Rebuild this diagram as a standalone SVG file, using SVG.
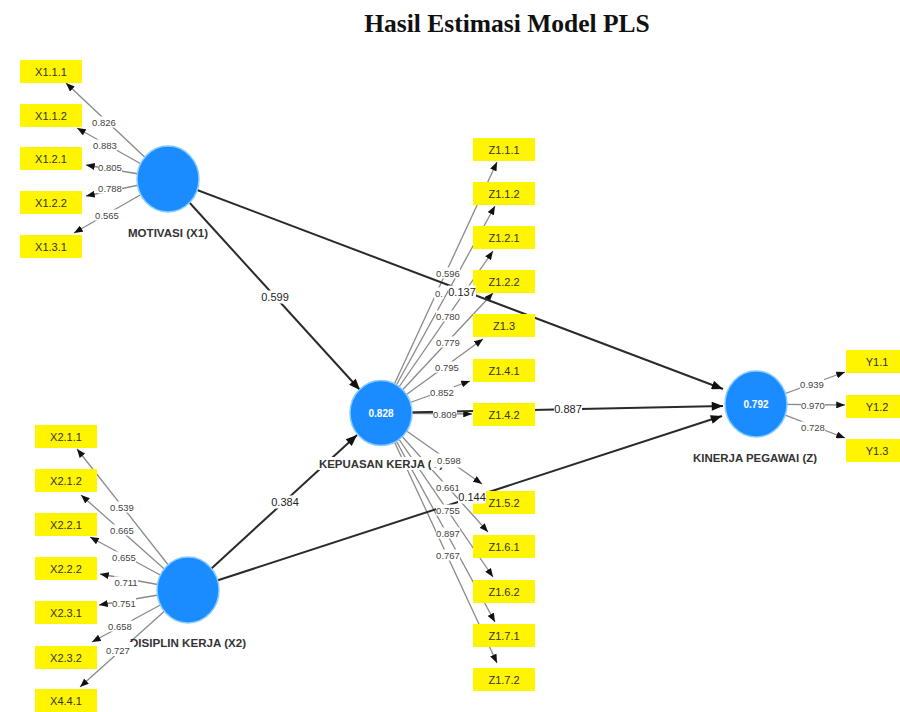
<svg xmlns="http://www.w3.org/2000/svg" width="900" height="712" viewBox="0 0 900 712">
  <defs>
    <marker id="ah" viewBox="0 0 10 8" refX="10" refY="4" markerWidth="9" markerHeight="7" orient="auto" markerUnits="userSpaceOnUse">
      <path d="M0,0L10,4L0,8z" fill="#111"/>
    </marker>
    <marker id="ahb" viewBox="0 0 10 8" refX="10" refY="4" markerWidth="12" markerHeight="9" orient="auto" markerUnits="userSpaceOnUse">
      <path d="M0,0L10,4L0,8z" fill="#111"/>
    </marker>
  </defs>
  <style>
    .title { font-family: "Liberation Serif", "Times New Roman", serif; font-weight: bold; font-size: 25.5px; fill: #111; text-anchor: middle; }
    .ld { stroke: #8a8a8a; stroke-width: 1.3; fill: none; marker-end: url(#ah); }
    .st { stroke: #2a2a2a; stroke-width: 2; fill: none; marker-end: url(#ahb); }
    .lv { fill: #1a8cff; stroke: #86ccff; stroke-width: 1.5; }
    .ind { fill: #fff500; }
    .it { font-family: "Liberation Sans", Arial, sans-serif; font-size: 11px; fill: #333; text-anchor: middle; }
    .val { font-family: "Liberation Sans", Arial, sans-serif; font-size: 10px; font-weight: bold; fill: #fff; text-anchor: middle; }
    .nm { font-family: "Liberation Sans", Arial, sans-serif; font-size: 10px; font-weight: bold; fill: #333; text-anchor: middle; }
    .bg { fill: #fff; }
    .lt { font-family: "Liberation Sans", Arial, sans-serif; font-size: 9.5px; fill: #444; text-anchor: middle; }
    .pt { font-family: "Liberation Sans", Arial, sans-serif; font-size: 11px; fill: #222; text-anchor: middle; }
  </style>

  <rect width="900" height="712" fill="#fff"/>
  <text class="title" x="507" y="32">Hasil Estimasi Model PLS</text>

  <!-- connectors: outer loadings and structural paths -->
  <g id="connectors">
    <!-- MOTIVASI (X1) loadings -->
    <line class="ld" x1="168" y1="179" x2="66" y2="83"/>
    <line class="ld" x1="168" y1="179" x2="77" y2="128"/>
    <line class="ld" x1="168" y1="179" x2="86" y2="165"/>
    <line class="ld" x1="168" y1="179" x2="86" y2="196"/>
    <line class="ld" x1="168" y1="179" x2="74" y2="233"/>
    <!-- DISIPLIN KERJA (X2) loadings -->
    <line class="ld" x1="188" y1="590" x2="77" y2="449"/>
    <line class="ld" x1="188" y1="590" x2="81" y2="495"/>
    <line class="ld" x1="188" y1="590" x2="90" y2="537"/>
    <line class="ld" x1="188" y1="590" x2="100" y2="574"/>
    <line class="ld" x1="188" y1="590" x2="99" y2="605"/>
    <line class="ld" x1="188" y1="590" x2="92" y2="642"/>
    <line class="ld" x1="188" y1="590" x2="80" y2="687"/>
    <!-- KEPUASAN KERJA (Y) loadings -->
    <line class="ld" x1="381" y1="413" x2="497" y2="162"/>
    <line class="ld" x1="381" y1="413" x2="495" y2="206"/>
    <line class="ld" x1="381" y1="413" x2="493" y2="251"/>
    <line class="ld" x1="381" y1="413" x2="493" y2="293"/>
    <line class="ld" x1="381" y1="413" x2="483" y2="339"/>
    <line class="ld" x1="381" y1="413" x2="470" y2="381"/>
    <line class="ld" x1="381" y1="413" x2="472" y2="414"/>
    <line class="ld" x1="381" y1="413" x2="482" y2="484"/>
    <line class="ld" x1="381" y1="413" x2="488" y2="532"/>
    <line class="ld" x1="381" y1="413" x2="493" y2="577"/>
    <line class="ld" x1="381" y1="413" x2="495" y2="622"/>
    <line class="ld" x1="381" y1="413" x2="497" y2="663"/>
    <!-- KINERJA PEGAWAI (Z) loadings -->
    <line class="ld" x1="756" y1="404" x2="845" y2="372"/>
    <line class="ld" x1="756" y1="404" x2="845" y2="405"/>
    <line class="ld" x1="756" y1="404" x2="845" y2="438"/>
    <!-- structural paths -->
    <line class="st" x1="168" y1="179" x2="360" y2="390"/>
    <line class="st" x1="188" y1="590" x2="357" y2="435"/>
    <line class="st" x1="168" y1="179" x2="723" y2="389"/>
    <line class="st" x1="381" y1="413" x2="723" y2="406"/>
    <line class="st" x1="188" y1="590" x2="722" y2="416"/>
  </g>

  <!-- latent variables -->
  <g id="motivasi">
    <ellipse class="lv" cx="168" cy="179" rx="31" ry="33"/>
    <text class="nm" x="168" y="237" textLength="80" lengthAdjust="spacingAndGlyphs">MOTIVASI (X1)</text>
  </g>
  <g id="disiplin">
    <ellipse class="lv" cx="188" cy="590" rx="31" ry="33"/>
    <text class="nm" x="188" y="647" textLength="116" lengthAdjust="spacingAndGlyphs">DISIPLIN KERJA (X2)</text>
  </g>
  <g id="kepuasan">
    <ellipse class="lv" cx="381" cy="413" rx="31" ry="32.5"/>
    <text class="val" x="381" y="416.5">0.828</text>
    <rect class="bg" x="318" y="457" width="127" height="13"/>
    <text class="nm" x="381" y="468" textLength="124" lengthAdjust="spacingAndGlyphs">KEPUASAN KERJA (Y)</text>
  </g>
  <g id="kinerja">
    <ellipse class="lv" cx="756" cy="404" rx="31" ry="33"/>
    <text class="val" x="756" y="407.5">0.792</text>
    <text class="nm" x="755" y="462" textLength="124" lengthAdjust="spacingAndGlyphs">KINERJA PEGAWAI (Z)</text>
  </g>

  <!-- indicators of MOTIVASI (X1) -->
  <g id="x111"><rect class="ind" x="20" y="60" width="62" height="23"/><text class="it" x="51" y="75.5">X1.1.1</text></g>
  <g id="x112"><rect class="ind" x="20" y="104" width="62" height="23"/><text class="it" x="51" y="119.5">X1.1.2</text></g>
  <g id="x121"><rect class="ind" x="20" y="147" width="62" height="23"/><text class="it" x="51" y="162.5">X1.2.1</text></g>
  <g id="x122"><rect class="ind" x="20" y="191" width="62" height="23"/><text class="it" x="51" y="206.5">X1.2.2</text></g>
  <g id="x131"><rect class="ind" x="20" y="235" width="62" height="23"/><text class="it" x="51" y="250.5">X1.3.1</text></g>

  <!-- indicators of DISIPLIN KERJA (X2) -->
  <g id="x211"><rect class="ind" x="35" y="425" width="62" height="23"/><text class="it" x="66" y="440.5">X2.1.1</text></g>
  <g id="x212"><rect class="ind" x="35" y="469" width="62" height="23"/><text class="it" x="66" y="484.5">X2.1.2</text></g>
  <g id="x221"><rect class="ind" x="35" y="513" width="62" height="23"/><text class="it" x="66" y="528.5">X2.2.1</text></g>
  <g id="x222"><rect class="ind" x="35" y="557" width="62" height="23"/><text class="it" x="66" y="572.5">X2.2.2</text></g>
  <g id="x231"><rect class="ind" x="35" y="601" width="62" height="23"/><text class="it" x="66" y="616.5">X2.3.1</text></g>
  <g id="x232"><rect class="ind" x="35" y="646" width="62" height="23"/><text class="it" x="66" y="661.5">X2.3.2</text></g>
  <g id="x441"><rect class="ind" x="35" y="689" width="62" height="23"/><text class="it" x="66" y="704.5">X4.4.1</text></g>

  <!-- indicators of KEPUASAN KERJA (Y) -->
  <g id="z111"><rect class="ind" x="473" y="138" width="62" height="23"/><text class="it" x="504" y="153.5">Z1.1.1</text></g>
  <g id="z112"><rect class="ind" x="473" y="182" width="62" height="23"/><text class="it" x="504" y="197.5">Z1.1.2</text></g>
  <g id="z121"><rect class="ind" x="473" y="226" width="62" height="23"/><text class="it" x="504" y="241.5">Z1.2.1</text></g>
  <g id="z122"><rect class="ind" x="473" y="270" width="62" height="23"/><text class="it" x="504" y="285.5">Z1.2.2</text></g>
  <g id="z13"><rect class="ind" x="473" y="314" width="62" height="23"/><text class="it" x="504" y="329.5">Z1.3</text></g>
  <g id="z141"><rect class="ind" x="473" y="359" width="62" height="23"/><text class="it" x="504" y="374.5">Z1.4.1</text></g>
  <g id="z142"><rect class="ind" x="473" y="403" width="62" height="23"/><text class="it" x="504" y="418.5">Z1.4.2</text></g>
  <g id="z152"><rect class="ind" x="473" y="491" width="62" height="23"/><text class="it" x="504" y="506.5">Z1.5.2</text></g>
  <g id="z161"><rect class="ind" x="473" y="535" width="62" height="23"/><text class="it" x="504" y="550.5">Z1.6.1</text></g>
  <g id="z162"><rect class="ind" x="473" y="580" width="62" height="23"/><text class="it" x="504" y="595.5">Z1.6.2</text></g>
  <g id="z171"><rect class="ind" x="473" y="624" width="62" height="23"/><text class="it" x="504" y="639.5">Z1.7.1</text></g>
  <g id="z172"><rect class="ind" x="473" y="668" width="62" height="23"/><text class="it" x="504" y="683.5">Z1.7.2</text></g>

  <!-- indicators of KINERJA PEGAWAI (Z) -->
  <g id="y11"><rect class="ind" x="846" y="350" width="62" height="23"/><text class="it" x="877" y="365.5">Y1.1</text></g>
  <g id="y12"><rect class="ind" x="846" y="395" width="62" height="23"/><text class="it" x="877" y="410.5">Y1.2</text></g>
  <g id="y13"><rect class="ind" x="846" y="439" width="62" height="23"/><text class="it" x="877" y="454.5">Y1.3</text></g>

  <!-- connector labels: loadings and path coefficients -->
  <g id="connector-labels">
    <rect class="bg" x="92" y="116.5" width="24" height="11"/><text class="lt" x="104" y="125.5">0.826</text>
    <rect class="bg" x="93" y="139.5" width="24" height="11"/><text class="lt" x="105" y="148.5">0.883</text>
    <rect class="bg" x="98" y="161.5" width="24" height="11"/><text class="lt" x="110" y="170.5">0.805</text>
    <rect class="bg" x="98" y="182.5" width="24" height="11"/><text class="lt" x="110" y="191.5">0.788</text>
    <rect class="bg" x="95" y="209.5" width="24" height="11"/><text class="lt" x="107" y="218.5">0.565</text>

    <rect class="bg" x="110" y="501.5" width="24" height="11"/><text class="lt" x="122" y="510.5">0.539</text>
    <rect class="bg" x="110" y="524.5" width="24" height="11"/><text class="lt" x="122" y="533.5">0.665</text>
    <rect class="bg" x="112" y="551.5" width="24" height="11"/><text class="lt" x="124" y="560.5">0.655</text>
    <rect class="bg" x="114" y="576.5" width="24" height="11"/><text class="lt" x="126" y="585.5">0.711</text>
    <rect class="bg" x="112" y="597.5" width="24" height="11"/><text class="lt" x="124" y="606.5">0.751</text>
    <rect class="bg" x="108" y="620.5" width="24" height="11"/><text class="lt" x="120" y="629.5">0.658</text>
    <rect class="bg" x="105" y="642" width="29" height="14"/><text class="lt" x="118" y="653.5">0.727</text>

    <rect class="bg" x="436" y="267.5" width="24" height="11"/><text class="lt" x="448" y="276.5">0.596</text>
    <rect class="bg" x="434" y="287.5" width="10" height="11"/><text class="lt" x="439" y="296.5">0.</text>
    <rect class="bg" x="436" y="310.5" width="24" height="11"/><text class="lt" x="448" y="319.5">0.780</text>
    <rect class="bg" x="436" y="336.5" width="24" height="11"/><text class="lt" x="448" y="345.5">0.779</text>
    <rect class="bg" x="435" y="361.5" width="24" height="11"/><text class="lt" x="447" y="370.5">0.795</text>
    <rect class="bg" x="430" y="386.5" width="24" height="11"/><text class="lt" x="442" y="395.5">0.852</text>
    <rect class="bg" x="433" y="408.5" width="24" height="11"/><text class="lt" x="445" y="417.5">0.809</text>
    <rect class="bg" x="431" y="453.5" width="30" height="14"/><text class="lt" x="449" y="463.5">0.598</text>
    <rect class="bg" x="436" y="481.5" width="24" height="11"/><text class="lt" x="448" y="490.5">0.661</text>
    <rect class="bg" x="436" y="504.5" width="24" height="11"/><text class="lt" x="448" y="513.5">0.755</text>
    <rect class="bg" x="436" y="527.5" width="24" height="11"/><text class="lt" x="448" y="536.5">0.897</text>
    <rect class="bg" x="436" y="549.5" width="24" height="11"/><text class="lt" x="448" y="558.5">0.767</text>

    <rect class="bg" x="800" y="378.5" width="24" height="11"/><text class="lt" x="812" y="387.5">0.939</text>
    <rect class="bg" x="801" y="399.5" width="24" height="11"/><text class="lt" x="813" y="408.5">0.970</text>
    <rect class="bg" x="801" y="421.5" width="24" height="11"/><text class="lt" x="813" y="430.5">0.728</text>

    <rect class="bg" x="261" y="290.5" width="28" height="13"/><text class="pt" x="275" y="301">0.599</text>
    <rect class="bg" x="271" y="495.5" width="28" height="13"/><text class="pt" x="285" y="506">0.384</text>
    <rect class="bg" x="448" y="285.5" width="28" height="13"/><text class="pt" x="462" y="296">0.137</text>
    <rect class="bg" x="554" y="402.5" width="28" height="13"/><text class="pt" x="568" y="413">0.887</text>
    <rect class="bg" x="458" y="490.5" width="28" height="13"/><text class="pt" x="472" y="501">0.144</text>
  </g>
</svg>
